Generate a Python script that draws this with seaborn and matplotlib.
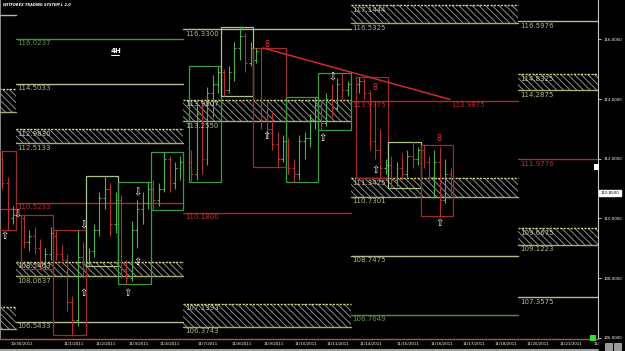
import matplotlib
matplotlib.use("Agg")
import matplotlib.pyplot as plt
from matplotlib.patches import Rectangle
from matplotlib.lines import Line2D
import seaborn as sns
import pandas as pd

# ---------------- data ----------------
# first 4H-bar index of each trading day (6 bars per day, 1-bar weekend gap)
day_start = [-7, 0, 6, 12, 18, 24, 31, 37, 43, 49, 55, 62, 68, 74]
day_shade = ["dn", "dn", "dn", "up_lt", "up", "up", "up", "up_lt", "dn", "up", "up", "dn", "up_lt", "dn"]

bar_open = [111.5, 111.7, 111.6, 112.0, 111.2, 110.0,
            110.0, 109.2, 109.4, 109.0, 108.5, 108.8,
            109.4, 108.8, 108.6, 107.2, 106.6, 108.7,
            108.5, 108.9, 109.6, 110.7, 111.0, 109.8,
            110.6, 108.3, 108.0, 109.6, 110.3, 110.5,
            111.0, 110.6, 111.0, 112.0, 111.2, 111.7,
            111.9, 111.5, 113.5, 112.0, 114.2, 114.5,
            114.9, 114.3, 114.9, 115.7, 116.1, 115.2,
            115.3, 115.6, 113.3, 113.0, 112.5, 112.0,
            112.6, 111.7, 111.5, 112.6, 112.7, 113.3,
            113.8, 113.2, 114.0, 113.7, 114.5, 114.3,
            114.5, 114.6, 114.2, 112.6, 112.3, 111.7,
            111.8, 111.3, 111.7, 111.5, 112.1, 112.0,
            112.3, 111.9, 111.4, 111.9, 110.6, 111.5]
bar_high = [111.9, 112.1, 112.1, 112.26, 111.4, 110.4,
            110.1, 109.6, 109.7, 109.3, 109.0, 109.7,
            109.6, 109.1, 108.8, 107.4, 109.6, 109.2,
            109.0, 109.8, 110.9, 111.42, 111.2, 110.9,
            110.8, 108.6, 109.9, 110.6, 110.9, 111.22,
            111.3, 111.2, 112.22, 112.1, 111.9, 112.1,
            112.3, 113.8, 113.9, 114.4, 114.8, 115.11,
            115.0, 115.1, 115.9, 116.41, 116.2, 115.9,
            115.71, 115.7, 113.9, 113.6, 112.9, 112.8,
            112.7, 112.0, 112.8, 112.9, 113.5, 114.07,
            113.9, 114.2, 114.5, 114.7, 114.87, 114.6,
            114.74, 114.7, 114.3, 113.9, 113.0, 112.0,
            112.1, 111.9, 112.2, 112.3, 112.56, 112.4,
            112.46, 112.1, 112.3, 112.4, 112.0, 111.7]
bar_low = [111.2, 111.4, 111.5, 111.0, 109.61, 109.8,
           109.0, 108.9, 108.8, 108.3, 108.3, 108.6,
           108.6, 108.5, 106.9, 106.1, 106.4, 108.0,
           108.41, 108.7, 109.4, 110.3, 109.4, 109.5,
           108.0, 107.8, 107.9, 109.0, 109.8, 110.3,
           110.28, 110.4, 110.9, 110.9, 111.0, 111.3,
           111.22, 111.3, 111.5, 111.8, 113.4, 114.2,
           114.10, 114.2, 114.6, 115.3, 114.9, 115.1,
           115.2, 113.0, 112.7, 112.3, 111.72, 111.9,
           111.5, 111.22, 111.3, 112.0, 112.4, 113.0,
           112.96, 113.1, 113.4, 113.6, 114.0, 114.1,
           114.2, 114.0, 112.3, 112.0, 111.35, 111.5,
           111.02, 111.1, 111.3, 111.4, 111.7, 111.8,
           111.7, 111.2, 110.7, 110.08, 110.5, 110.8]
bar_close = [111.7, 111.6, 112.0, 111.2, 110.0, 110.1,
             109.2, 109.4, 109.0, 108.5, 108.8, 109.5,
             108.8, 108.6, 107.2, 106.6, 108.7, 108.3,
             108.9, 109.6, 110.7, 111.0, 109.8, 110.6,
             108.3, 108.0, 109.6, 110.3, 110.5, 111.0,
             110.6, 111.0, 112.0, 111.2, 111.7, 111.9,
             111.5, 113.5, 112.0, 114.2, 114.5, 114.9,
             114.3, 114.9, 115.7, 116.1, 115.2, 115.7,
             115.6, 113.3, 113.0, 112.5, 112.0, 112.6,
             111.7, 111.5, 112.6, 112.7, 113.3, 113.8,
             113.2, 114.0, 113.7, 114.5, 114.3, 114.5,
             114.6, 114.2, 112.6, 112.3, 111.7, 111.8,
             111.3, 111.7, 111.5, 112.1, 112.0, 112.3,
             111.9, 111.4, 111.9, 110.6, 111.5, 110.85]

# weekly levels (lines)
lvl_start = [-32, -32, -1, -1, -1, -1, 30, 30, 61, 61, 61, 92, 92, 92]
lvl_end = [-1, -1, 30, 30, 30, 30, 61, 61, 92, 92, 92, 108, 108, 108]
lvl_price = [116.81, 110.31, 116.0237, 114.5033, 110.5233, 106.5433, 116.3300, 110.1800,
             113.9375, 108.7475, 106.7649, 116.5976, 111.9776, 107.3575]
lvl_kind = ["khaki", "red", "green", "khaki", "red", "khaki", "khaki", "red",
            "red", "khaki", "green", "khaki", "red", "khaki"]
lvl_show = [False, False, True, True, True, True, True, True, True, True, True, True, True, True]

# weekly hatched zones
zone_start = [-32, -32, -1, -1, 30, 30, 61, 61, 92, 92]
zone_end = [-1, -1, 30, 30, 61, 61, 92, 92, 108, 108]
zone_lo = [113.56, 106.29, 112.5133, 108.0637, 113.2550, 106.3743, 116.5325, 110.7301, 114.2875, 109.1223]
zone_hi = [114.34, 107.03, 112.9830, 108.5463, 113.9807, 107.1393, 117.1444, 111.3425, 114.8325, 109.6675]
zone_show = [False, False, True, True, True, True, True, True, True, True]

# trend line
trend_x = [44.8, 79.4]
trend_y = [115.71, 113.9875]

# signal arrows
arrow_x = [-3.1, -0.6, 11.5, 11.5, 19.6, 21.5, 21.5, 45.5, 55.7, 57.6, 65.5, 77.4]
arrow_y = [109.41, 110.15, 109.78, 107.50, 107.50, 110.88, 108.54, 112.76, 112.69, 114.74, 111.62, 109.85]
arrow_dir = ["up", "dn", "dn", "up", "up", "dn", "up", "up", "up", "dn", "up", "up"]

mark_x = [45.5, 65.5, 77.4]
mark_y = [115.84, 114.40, 112.69]

date_pos = [0.2, 9.8, 15.7, 21.7, 27.6, 34.6, 40.9, 46.8, 52.8, 58.7, 64.8, 71.6,
            77.9, 83.8, 89.8, 95.7, 101.8, 106.6]
date_lab = ["10/30/2011", "11/1/2011", "11/2/2011", "11/3/2011", "11/4/2011", "11/7/2011",
            "11/8/2011", "11/9/2011", "11/10/2011", "11/11/2011", "11/14/2011", "11/15/2011",
            "11/16/2011", "11/17/2011", "11/18/2011", "11/20/2011", "11/21/2011", "11/"]

price_ticks = [106, 108, 110, 112, 114, 116]
last_price = 110.85

# ---------------- style ----------------
sns.set_theme(style="dark", rc={"axes.facecolor": "black", "figure.facecolor": "black",
                                "axes.grid": False, "hatch.linewidth": 0.7,
                                "hatch.color": "#8e8e8e"})
plt.rcParams["font.family"] = ["DejaVu Sans"]

COL = {"khaki": "#b9b98f", "green": "#4e8b3c", "red": "#b02828",
       "ztop": "#d8d884", "zbot": "#9fb070"}
LCOL = {"khaki": "#b4b48c", "green": "#5f9a4a", "red": "#b83030"}
BOX = {"dn": "#9a2c2c", "up": "#3f9a3f", "up_lt": "#a8c48a"}
UPC, DNC = "#4fb04f", "#b53030"

fig = plt.figure(figsize=(6.25, 3.51), dpi=100)
ax = fig.add_axes([0, 12 / 351, 598 / 625, 339 / 351])
ax.set_facecolor("black")

# zones
for s, e, lo, hi in zip(zone_start, zone_end, zone_lo, zone_hi):
    ax.add_patch(Rectangle((s, lo), e - s, hi - lo, facecolor="black", edgecolor="#8e8e8e",
                           hatch="\\\\\\\\\\", lw=0, zorder=1))

# level lines + zone edges through seaborn
rows = []
seg = 0
for s, e, p, k in zip(lvl_start, lvl_end, lvl_price, lvl_kind):
    rows += [(seg, s, p, k), (seg, e, p, k)]
    seg += 1
for s, e, lo, hi in zip(zone_start, zone_end, zone_lo, zone_hi):
    rows += [(seg, s, hi, "ztop"), (seg, e, hi, "ztop")]
    seg += 1
    rows += [(seg, s, lo, "zbot"), (seg, e, lo, "zbot")]
    seg += 1
df = pd.DataFrame(rows, columns=["seg", "x", "y", "kind"])
sns.lineplot(data=df, x="x", y="y", units="seg", hue="kind", style="kind", palette=COL,
             dashes={"khaki": "", "green": "", "red": "", "ztop": (1.5, 1.0), "zbot": ""},
             estimator=None, sort=False, legend=False, lw=1.0, ax=ax, zorder=2)

# labels of levels
for s, p, k, show in zip(lvl_start, lvl_price, lvl_kind, lvl_show):
    if show:
        ax.annotate(f"{p:.4f}", (s, p), xytext=(1.2, -1.0), textcoords="offset points",
                    va="top", ha="left", fontsize=5, color=LCOL[k], zorder=6)
for s, lo, hi, show in zip(zone_start, zone_lo, zone_hi, zone_show):
    if show:
        ax.annotate(f"{hi:.4f}", (s, hi), xytext=(1.2, -1.0), textcoords="offset points",
                    va="top", ha="left", fontsize=5, color="#c8c8b0", zorder=6)
        ax.annotate(f"{lo:.4f}", (s, lo), xytext=(1.2, -1.0), textcoords="offset points",
                    va="top", ha="left", fontsize=5, color=LCOL["khaki"], zorder=6)

# daily boxes and 4H OHLC bars
for d, (ds, shade) in enumerate(zip(day_start, day_shade)):
    idx = range(d * 6, d * 6 + 6)
    hi = max(bar_high[i] for i in idx)
    lo = min(bar_low[i] for i in idx)
    ax.add_patch(Rectangle((ds, lo), 6, hi - lo, facecolor="none", edgecolor=BOX[shade],
                           lw=0.9, zorder=3))
    for j, i in enumerate(idx):
        x = ds + j + 0.5
        c = UPC if bar_close[i] >= bar_open[i] else DNC
        ax.vlines(x, bar_low[i], bar_high[i], colors=c, lw=0.8, zorder=4)
        ax.hlines(bar_open[i], x - 0.35, x, colors=c, lw=0.8, zorder=4)
        ax.hlines(bar_close[i], x, x + 0.35, colors=c, lw=0.8, zorder=4)

# trend line
sns.lineplot(x=trend_x, y=trend_y, color="#d02a2a", lw=1.1, ax=ax, zorder=5)
ax.annotate(f"{trend_y[-1]:.4f}", (trend_x[-1], trend_y[-1]), xytext=(1.2, -2.0),
            textcoords="offset points", va="top", ha="left", fontsize=5, color=LCOL["red"])

# arrows and markers
for x, y, dr in zip(arrow_x, arrow_y, arrow_dir):
    ax.text(x, y, "\u21e7" if dr == "up" else "\u21e9", ha="center", va="center",
            color="white", fontsize=7, zorder=7)
for x, y in zip(mark_x, mark_y):
    ax.text(x, y, "8", ha="center", va="center", color="#e03838", fontsize=5.8, zorder=7)

# axes
ax.set_xlim(-3.89, 106.79)
ax.set_ylim(105.96, 117.317)
ax.set_xlabel("")
ax.set_ylabel("")
ax.yaxis.tick_right()
ax.set_yticks(price_ticks)
ax.set_yticklabels([f"{v:.4f}" for v in price_ticks])
ax.tick_params(axis="y", colors="white", labelsize=2.9, length=2, width=0.5, pad=2,
               right=True, left=False)
ax.set_xticks(date_pos)
ax.set_xticklabels(date_lab)
ax.tick_params(axis="x", colors="white", labelsize=2.9, length=0, pad=2.2)
ax.spines["top"].set_visible(False)
ax.spines["right"].set_color("#c8c8c8")
ax.spines["right"].set_linewidth(0.8)
ax.spines["left"].set_color("#a0a0a0")
ax.spines["left"].set_linewidth(0.6)
ax.spines["bottom"].set_color("#c04848")
ax.spines["bottom"].set_linestyle((0, (2, 1)))
ax.spines["bottom"].set_linewidth(1.0)

# current price tag
ax.text(1.004, last_price, f"{last_price:.4f}", transform=ax.get_yaxis_transform(),
        fontsize=2.9, color="black", va="center", ha="left",
        bbox=dict(boxstyle="square,pad=0.35", fc="white", ec="white"))

# decorations
fig.add_artist(Line2D([0, 598 / 625], [1.5 / 351, 1.5 / 351], color="#a0a0a0", lw=1.5,
                      transform=fig.transFigure))
fig.add_artist(Rectangle((590 / 625, 1 - 341 / 351), 6 / 625, 6 / 351, fc="#30e030",
                         ec="none", transform=fig.transFigure))
fig.add_artist(Rectangle((594 / 625, 1 - 170 / 351), 5 / 625, 6 / 351, fc="white",
                         ec="none", transform=fig.transFigure))
for xi in (605, 614):
    fig.add_artist(Rectangle((xi / 625, 1 - 350 / 351), 7 / 625, 7 / 351, fc="#9a9a9a",
                             ec="#dddddd", lw=0.4, transform=fig.transFigure))

fig.text(3 / 625, 1 - 2.5 / 351, "WITFOREX TRADING SYSTEM L 2.0", color="white",
         fontsize=2.5, fontweight="bold", fontstyle="italic", va="top", ha="left")
fig.text(111 / 625, 1 - 51 / 351, "4H", color="white", fontsize=5, fontweight="bold",
         va="center", ha="left")
fig.add_artist(Line2D([111 / 625, 119 / 625], [1 - 55 / 351, 1 - 55 / 351], color="white",
                      lw=0.7, transform=fig.transFigure))

fig.savefig("out.png", dpi=100, facecolor="black")
